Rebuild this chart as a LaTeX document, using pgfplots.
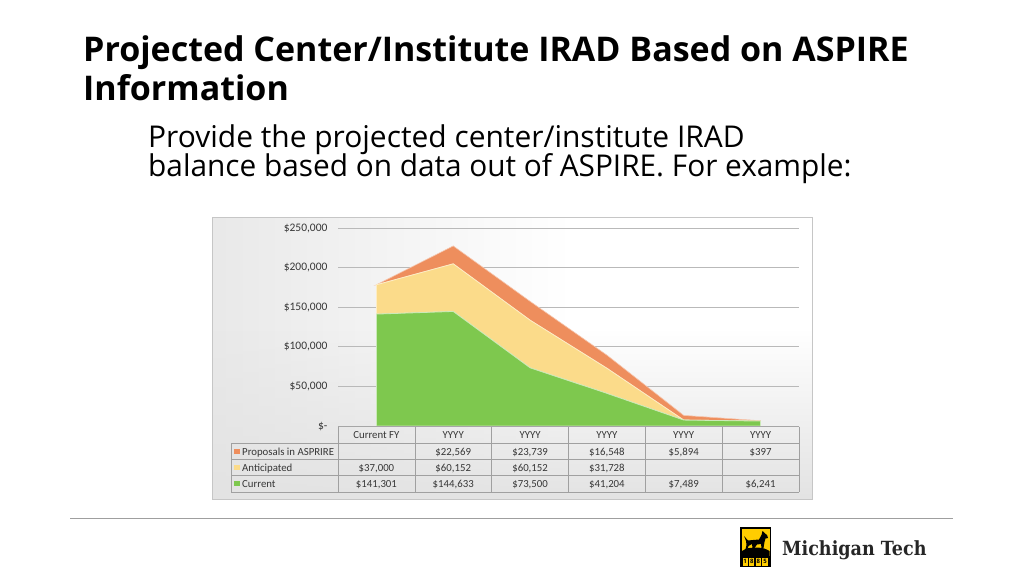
\documentclass[border=0pt]{standalone}
\usepackage{fontspec}
\setmainfont{Open Sans}
\newfontfamily\carlito{Carlito}
\newfontfamily\slab{DejaVu Serif}
\usepackage{pgfplots}
\pgfplotsset{compat=1.18}
\usetikzlibrary{fadings}
\definecolor{cgreen}{RGB}{126,200,78}
\definecolor{cyellow}{RGB}{251,219,138}
\definecolor{corange}{RGB}{238,142,93}
\definecolor{txt}{RGB}{55,55,55}
\definecolor{bgl}{RGB}{214,214,214}
\definecolor{bgr}{RGB}{236,236,236}
\definecolor{tline}{RGB}{160,160,160}
\definecolor{mtyellow}{RGB}{255,205,0}
\pgfdeclarehorizontalshading{bgh}{100bp}{color(0bp)=(bgl); color(55bp)=(white); color(85bp)=(white); color(100bp)=(bgr)}
\begin{document}
\begin{tikzpicture}[x=1pt,y=1pt]
\fill[white] (0,0) rectangle (1024,-576);
% title
\node[anchor=base west, inner sep=0, font=\fontsize{34}{38}\selectfont\bfseries] at (83,-61) {Projected Center/Institute IRAD Based on ASPIRE};
\node[anchor=base west, inner sep=0, font=\fontsize{34}{38}\selectfont\bfseries] at (83,-100) {Information};
\node[anchor=base west, inner sep=0, font=\fontsize{30}{32}\selectfont] at (148,-147) {\scalebox{0.998}[1]{Provide the projected center/institute IRAD}};
\node[anchor=base west, inner sep=0, font=\fontsize{30}{32}\selectfont] at (148,-176) {\scalebox{0.993}[1]{balance based on data out of ASPIRE. For example:}};
% chart background
\shade[shading=bgh] (212,-217) rectangle (812,-499);
\fill[gray!22, path fading=north] (212,-330) rectangle (812,-499);
\draw[gray!45, line width=0.8] (212,-217) rectangle (812,-499);
\begin{axis}[
  at={(338pt,-426pt)}, anchor=south west,
  scale only axis, width=461pt, height=198pt,
  xmin=-0.5, xmax=5.5, ymin=0, ymax=250000,
  axis line style={draw=none}, tick style={draw=none},
  xtick=\empty,
  scaled y ticks=false,
  ytick={0,50000,100000,150000,200000,250000},
  yticklabels={\$-,\$50{,}000,\$100{,}000,\$150{,}000,\$200{,}000,\$250{,}000},
  yticklabel style={font=\carlito\fontsize{11.5}{13}\selectfont, text=txt, anchor=east, xshift=-7pt},
  ymajorgrids, grid style={gray!55, line width=0.7pt},
  stack plots=y,
  clip=false,
]
\addplot[fill=cgreen, draw=white!60!cgreen, line width=0.8pt] coordinates {(0,141301) (1,144633) (2,73500) (3,41204) (4,7489) (5,6241)} \closedcycle;
\addplot[fill=cyellow, draw=white!50!cyellow, line width=0.8pt] coordinates {(0,37000) (1,60152) (2,60152) (3,31728) (4,0) (5,0)} \closedcycle;
\addplot[fill=corange, draw=white!50!corange, line width=0.6pt] coordinates {(0,0) (1,22569) (2,23739) (3,16548) (4,5894) (5,397)} \closedcycle;
\end{axis}
% table
\draw[gray!70, line width=1] (338,-426.5) -- (799,-426.5);
\foreach \yy in {443,459,475} \draw[tline, line width=0.6] (231,-\yy) -- (799,-\yy);
\draw[tline, line width=0.6] (231,-492) -- (799,-492);
\draw[tline, line width=0.6] (231,-443) -- (231,-492);
\foreach \i in {0,...,6} \draw[tline, line width=0.6] ({338+76.83*\i},-426.5) -- ({338+76.83*\i},-492);
\begin{scope}[every node/.style={font=\carlito\fontsize{10.8}{12}\selectfont, text=txt, inner sep=0, anchor=base}]
\node at ({338+76.83*0.5},-438.5) {Current FY};
\foreach \i in {1,...,5} \node at ({338+76.83*(\i+0.5)},-438.5) {YYYY};
\node[anchor=base west] at (242,-455) {Proposals in ASPRIRE};
\node[anchor=base west] at (242,-471) {Anticipated};
\node[anchor=base west] at (242,-487.5) {Current};
\fill[corange] (234,-448.5) rectangle (240,-453.5);
\fill[cyellow] (234,-464.5) rectangle (240,-469.5);
\fill[cgreen] (234,-481) rectangle (240,-486);
\node at ({338+76.83*1.5},-455) {\$22,569};
\node at ({338+76.83*2.5},-455) {\$23,739};
\node at ({338+76.83*3.5},-455) {\$16,548};
\node at ({338+76.83*4.5},-455) {\$5,894};
\node at ({338+76.83*5.5},-455) {\$397};
\node at ({338+76.83*0.5},-471) {\$37,000};
\node at ({338+76.83*1.5},-471) {\$60,152};
\node at ({338+76.83*2.5},-471) {\$60,152};
\node at ({338+76.83*3.5},-471) {\$31,728};
\node at ({338+76.83*0.5},-487.5) {\$141,301};
\node at ({338+76.83*1.5},-487.5) {\$144,633};
\node at ({338+76.83*2.5},-487.5) {\$73,500};
\node at ({338+76.83*3.5},-487.5) {\$41,204};
\node at ({338+76.83*4.5},-487.5) {\$7,489};
\node at ({338+76.83*5.5},-487.5) {\$6,241};
\end{scope}
% rule
\draw[gray!75, line width=1] (70,-518) -- (953,-518);
% logo
\fill[black] (740,-527) rectangle (771,-567);
\fill[mtyellow] (741.5,-528.5) rectangle (769.5,-556);
\fill[black] (742,-556) -- (742,-551) .. controls (747,-548) .. (756,-547.5) .. controls (764,-548) .. (769.5,-551) -- (769.5,-556) -- cycle;
\fill[black] (744,-536) -- (748,-540.5) -- (753,-540) -- (759,-539.5) -- (761.5,-535) -- (762.5,-531) -- (764.5,-533) -- (767,-535) -- (768,-538) -- (765.5,-538.5) -- (764.5,-542) -- (763.5,-548) -- (761.5,-548) -- (761,-544) -- (757,-544.5) -- (754.5,-548) -- (752.5,-548) -- (752,-544) -- (748.5,-546) -- (747.5,-549) -- (745.5,-549) -- (746.5,-545) -- (746,-541) -- cycle;
\foreach \k/\d in {0/1,1/8,2/8,3/5} {
  \fill[mtyellow] ({742.5+6.6*\k},-558) rectangle ({747.8+6.6*\k},-565.5);
  \node[inner sep=0, font=\fontsize{6}{6}\selectfont\bfseries] at ({745.15+6.6*\k},-561.8) {\d};
}
\node[anchor=base west, inner sep=0, font=\slab\bfseries\fontsize{19.5}{22}\selectfont, text=black!85] at (782,-555) {\scalebox{0.9}[1]{Michigan Tech}};
\end{tikzpicture}
\end{document}
